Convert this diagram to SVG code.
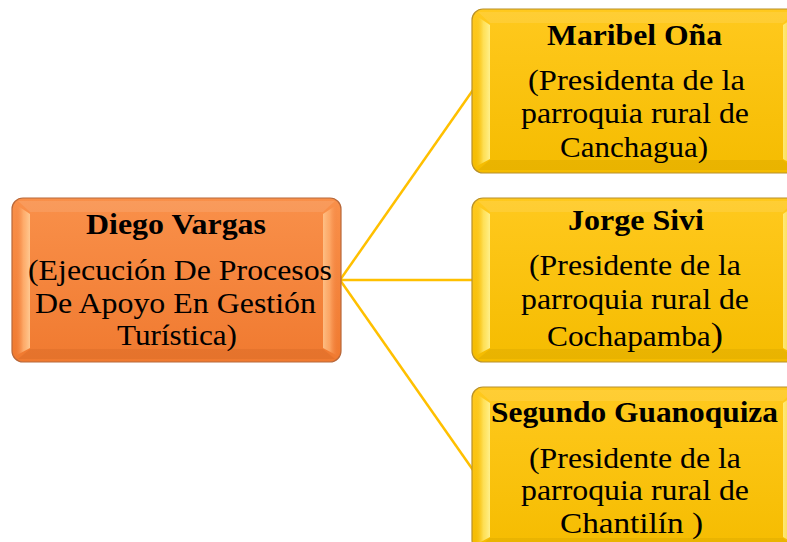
<svg xmlns="http://www.w3.org/2000/svg" width="787" height="542" viewBox="0 0 787 542">
  <style>
    .name { font-family: "Liberation Serif", "Times New Roman", serif; font-weight: bold; font-size: 30px; fill: #000; }
    .desc { font-family: "Liberation Serif", "Times New Roman", serif; font-size: 29px; fill: #000; }
    .conn { stroke: #FFC000; stroke-width: 2.5; fill: none; }
  </style>
  <defs>
    <linearGradient id="gY" x1="0" y1="0" x2="0" y2="1">
      <stop offset="0" stop-color="#FFC91E"/>
      <stop offset="1" stop-color="#F5BC00"/>
    </linearGradient>
    <linearGradient id="gO" x1="0" y1="0" x2="0" y2="1">
      <stop offset="0" stop-color="#F9904A"/>
      <stop offset="1" stop-color="#F07A30"/>
    </linearGradient>
    <linearGradient id="lY" x1="0" y1="0" x2="1" y2="0">
      <stop offset="0" stop-color="#F5BE10" stop-opacity="0"/>
      <stop offset="0.55" stop-color="#FFE460" stop-opacity="0.85"/>
      <stop offset="1" stop-color="#FFF08A" stop-opacity="1"/>
    </linearGradient>
    <linearGradient id="rY" x1="1" y1="0" x2="0" y2="0">
      <stop offset="0" stop-color="#F5BE10" stop-opacity="0"/>
      <stop offset="0.55" stop-color="#FFE460" stop-opacity="0.75"/>
      <stop offset="1" stop-color="#FFF08A" stop-opacity="0.85"/>
    </linearGradient>
    <linearGradient id="lO" x1="0" y1="0" x2="1" y2="0">
      <stop offset="0" stop-color="#F08040" stop-opacity="0"/>
      <stop offset="0.55" stop-color="#FFB070" stop-opacity="0.85"/>
      <stop offset="1" stop-color="#FFC890" stop-opacity="1"/>
    </linearGradient>
    <linearGradient id="rO" x1="1" y1="0" x2="0" y2="0">
      <stop offset="0" stop-color="#F08040" stop-opacity="0"/>
      <stop offset="0.55" stop-color="#FFB070" stop-opacity="0.75"/>
      <stop offset="1" stop-color="#FFC890" stop-opacity="0.85"/>
    </linearGradient>
    <g id="boxY">
      <rect x="0" y="0" width="329" height="164" rx="11" ry="11" fill="url(#gY)" stroke="#B8902A" stroke-width="1.2"/>
      <polygon points="6,3 323,3 311,14 18,14" fill="#FFFFFF" opacity="0.1"/>
      <polygon points="18,151 311,151 323,161 6,161" fill="#7A5A00" opacity="0.09"/>
      <polygon points="3,6 18,16 18,150 3,158" fill="url(#lY)"/>
      <polygon points="326,6 311,16 311,150 326,158" fill="url(#rY)"/>
    </g>
    <g id="boxO">
      <rect x="0" y="0" width="329" height="164" rx="11" ry="11" fill="url(#gO)" stroke="#B8683A" stroke-width="1.2"/>
      <polygon points="6,3 323,3 311,14 18,14" fill="#FFFFFF" opacity="0.1"/>
      <polygon points="18,151 311,151 323,161 6,161" fill="#7A3000" opacity="0.09"/>
      <polygon points="3,6 18,16 18,150 3,158" fill="url(#lO)"/>
      <polygon points="326,6 311,16 311,150 326,158" fill="url(#rO)"/>
    </g>
  </defs>

  <g id="connectors">
    <line class="conn" x1="340" y1="280" x2="473" y2="90"/>
    <line class="conn" x1="340" y1="280" x2="473" y2="280"/>
    <line class="conn" x1="340" y1="280" x2="473" y2="470"/>
  </g>

  <g id="node-diego">
    <use href="#boxO" x="12" y="198"/>
    <text class="name" x="86" y="234" textLength="180" lengthAdjust="spacingAndGlyphs">Diego Vargas</text>
    <text class="desc" x="28" y="280" textLength="304" lengthAdjust="spacingAndGlyphs">(Ejecución De Procesos</text>
    <text class="desc" x="35" y="313" textLength="281" lengthAdjust="spacingAndGlyphs">De Apoyo En Gestión</text>
    <text class="desc" x="117" y="345" textLength="120" lengthAdjust="spacingAndGlyphs">Turística)</text>
  </g>

  <g id="node-maribel">
    <use href="#boxY" x="472" y="9"/>
    <text class="name" x="547" y="45" textLength="175" lengthAdjust="spacingAndGlyphs">Maribel Oña</text>
    <text class="desc" x="528" y="90" textLength="217" lengthAdjust="spacingAndGlyphs">(Presidenta de la</text>
    <text class="desc" x="521" y="123" textLength="228" lengthAdjust="spacingAndGlyphs">parroquia rural de</text>
    <text class="desc" x="560" y="157" textLength="148" lengthAdjust="spacingAndGlyphs">Canchagua)</text>
  </g>

  <g id="node-jorge">
    <use href="#boxY" x="472" y="198"/>
    <text class="name" x="568" y="230" textLength="136" lengthAdjust="spacingAndGlyphs">Jorge Sivi</text>
    <text class="desc" x="529" y="275" textLength="212" lengthAdjust="spacingAndGlyphs">(Presidente de la</text>
    <text class="desc" x="521" y="309" textLength="228" lengthAdjust="spacingAndGlyphs">parroquia rural de</text>
    <text class="desc" x="547" y="346" textLength="176" lengthAdjust="spacingAndGlyphs">Cochapamba<tspan font-size="34">)</tspan></text>
  </g>

  <g id="node-segundo">
    <use href="#boxY" x="472" y="387"/>
    <text class="name" x="491" y="422" textLength="287" lengthAdjust="spacingAndGlyphs">Segundo Guanoquiza</text>
    <text class="desc" x="529" y="468" textLength="212" lengthAdjust="spacingAndGlyphs">(Presidente de la</text>
    <text class="desc" x="521" y="500" textLength="228" lengthAdjust="spacingAndGlyphs">parroquia rural de</text>
    <text class="desc" x="560" y="533" textLength="143" lengthAdjust="spacingAndGlyphs">Chantilín )</text>
  </g>
</svg>
